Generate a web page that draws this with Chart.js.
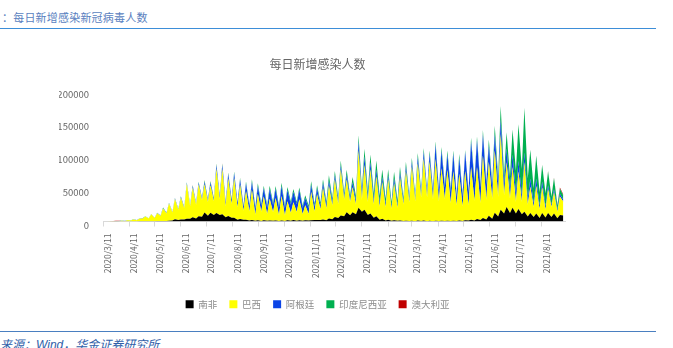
<!DOCTYPE html>
<html>
<head>
<meta charset="utf-8">
<script src="https://cdn.jsdelivr.net/npm/chart.js@4/dist/chart.umd.min.js"></script>
<style>
  html, body { margin: 0; padding: 0; background: #fff; width: 673px; height: 348px; overflow: hidden; position: relative; font-family: "Noto Sans CJK SC", sans-serif; }
  #head { position: absolute; left: 2px; top: 11px; font-size: 11px; line-height: 12px; letter-spacing: 0.2px; color: #5a7fc0; white-space: nowrap; }
  #headLine { position: absolute; left: 0; top: 28px; width: 656px; height: 1px; background: #3d8ed8; }
  #footLine { position: absolute; left: 0; top: 331px; width: 656px; height: 1px; background: #4a7fc0; }
  #foot { position: absolute; left: 0; top: 338px; font-size: 12px; line-height: 12px; font-style: italic; color: #2f5ea8; white-space: nowrap; }
  #foot .lat { font-family: "Liberation Sans", sans-serif; }
  #wrap { position: absolute; left: 0; top: 40px; width: 635px; height: 285px; }
</style>
</head>
<body>
<div id="head">：每日新增感染新冠病毒人数</div>
<div id="headLine"></div>
<div id="wrap"><canvas id="c"></canvas></div>
<div id="footLine"></div>
<div id="foot">来源：<span class="lat">Wind</span>，华金证券研究所</div>
<script>
// Day 0 of the horizontal axis
const startDate = '2020/3/11';
// Axis labels, one per month
const tickLabels = ['2020/3/11','2020/4/11','2020/5/11','2020/6/11','2020/7/11','2020/8/11','2020/9/11',
  '2020/10/11','2020/11/11','2020/12/11','2021/1/11','2021/2/11','2021/3/11','2021/4/11','2021/5/11',
  '2021/6/11','2021/7/11','2021/8/11'];

const seriesNames = ['南非', '巴西', '阿根廷', '印度尼西亚', '澳大利亚'];

// Weekly readings: mid-week high (Thursday) and start-of-week low (Monday), persons per day
const saPeak = [0,50,200,50,100,100,300,350,400,600,
  800,1200,3300,3000,4000,6500,8100,13700,13200,13100,
  11000,8300,5700,3800,2500,2400,1800,1900,1600,1700,
  1600,1900,2100,1800,1800,1900,2400,3100,4400,6700,
  9000,14000,14000,21000,18000,12300,8000,4200,2700,1900,
  1700,1200,1300,1400,1400,1200,1100,1100,1300,1300,
  1500,1900,2800,3900,5200,8900,13200,18000,22000,21000,
  19000,15000,13000,12000,13000,13000,12000,10000];
const saLow = [0,100,100,50,100,150,200,300,450,600,
  600,1700,2400,3200,4300,4600,7200,8700,10000,9700,
  6500,5800,2500,2500,1600,1200,800,1000,1200,900,
  800,1000,1300,1000,1400,2100,2100,1800,3300,5200,
  7900,9500,11000,15000,10000,5700,2500,1700,1000,1000,
  900,800,500,600,500,400,700,800,900,800,
  900,1600,1600,2100,3000,4300,7700,12000,13000,12000,
  11000,7500,7000,5500,6000,7000,5000,9000];

const brPeak = [30,200,500,1100,1800,3000,3700,7200,10500,12000,
  19000,26000,31000,33000,53000,45000,48000,43000,42000,67000,
  69000,57000,60000,52000,44000,46000,40000,36000,33000,34000,
  37000,29000,27000,32000,23000,43000,39000,48000,50000,57000,
  70000,50000,38000,87000,68000,67000,61000,56000,61000,56000,
  65000,75000,82000,87000,94000,90000,94000,80000,77000,75000,
  71000,75000,80000,79000,95000,82000,95000,115000,68000,62000,
  57000,75000,40000,42000,39000,36000,32000,28000];
const brLow = [50,300,400,900,1300,1900,4500,4100,5000,7900,
  11700,12000,15600,17000,19000,21000,25000,21000,20800,24000,
  16600,21000,19000,14000,13500,9100,14000,10000,13000,8500,
  8400,12000,13000,10000,10000,13000,16000,18000,21000,21000,
  25000,20000,15000,18000,20000,20000,20000,20000,18000,20000,
  25000,28000,30000,36000,36000,33000,30000,33000,27000,24000,
  22000,23000,30000,26000,30000,30000,30000,28000,22000,18000,
  19000,18000,15000,13000,12000,15000,10000,21000];

const arPeak = [10,30,100,100,100,100,100,150,200,300,
  500,700,900,1200,1400,2600,2700,3600,4300,5800,
  5900,7100,7700,8200,11700,12200,12300,13000,15000,14000,
  15500,17000,16000,14000,11000,11000,9000,8000,7500,7200,
  7100,7500,7700,14000,13000,11000,10000,7500,6800,7900,
  8200,8000,8100,9600,11000,11900,22000,27000,24000,27000,
  24000,29000,39000,41000,33000,25000,25000,22000,21000,19000,
  16000,15000,12000,11000,9000,6000,5000,4000];
const arLow = [20,50,100,80,100,100,100,100,150,200,
  500,600,800,1000,1200,1600,2300,2600,2700,4200,
  4800,4800,6100,6100,8000,8600,9100,10000,11000,11000,
  11000,13000,12000,10000,9000,8000,6500,6000,5200,5000,
  5000,4600,5600,8000,7000,6700,6100,4600,3500,4000,
  4200,4500,4200,5300,6800,10000,13000,18000,17000,13000,
  15000,20000,27000,24000,23000,17000,20000,16000,12000,13000,
  10000,9000,6000,6000,5000,3500,3200,3500];

const idPeak = [10,80,100,150,300,300,350,350,350,550,
  900,700,600,1200,1300,1200,1600,2600,1600,1900,
  2000,1800,2100,2300,2500,3600,3900,3600,4600,4200,
  4900,4400,4400,4000,4100,5400,4800,5000,8400,6000,
  6700,7200,8000,9300,11500,11700,13700,11400,8800,9800,
  8200,6800,5400,6100,5300,4800,4800,5300,5700,4600,
  6300,2700,5400,5200,6000,8900,12600,20600,24800,38000,
  56000,68000,44000,35000,25000,21000,17000,8000];
const idLow = [20,100,100,200,300,200,350,400,250,500,
  500,450,600,900,950,1000,1200,1300,1700,1500,
  1500,1700,1700,1900,2200,3100,3100,3900,3500,3600,
  3700,3900,3200,2900,3900,3800,4300,4600,5700,5300,
  5500,5600,6900,8100,9000,9800,10000,8200,6700,7500,
  5500,5000,5000,5100,4500,4900,4700,4600,4800,3400,
  3800,2600,4400,4600,5000,7000,9900,14500,20700,34000,
  40000,31000,22600,20000,20000,12000,6000,6000];

const auPeak = [30,150,400,300,100,30,20,20,20,20,
  20,20,10,10,30,30,80,190,320,500,
  700,500,400,200,150,100,50,30,20,20,
  20,20,20,10,10,10,10,10,10,20,
  20,20,20,20,10,10,10,10,10,10,
  10,10,10,10,10,10,10,10,10,10,
  10,10,10,10,10,10,20,20,30,20,
  100,150,200,300,400,700,1100,1700];
const auLow = [50,300,300,100,50,20,20,20,20,10,
  10,10,10,20,20,20,70,180,380,500,
  400,400,300,200,100,50,30,20,10,10,
  10,10,10,10,10,10,10,10,10,10,
  20,30,10,10,10,10,10,10,10,10,
  10,10,10,10,10,10,10,10,10,10,
  10,10,10,10,10,10,20,30,20,40,
  100,150,200,300,400,600,1200,1500];

const colors = ['#000000', '#ffff00', '#0b44e6', '#00b050', '#c00000'];

function dayOf(label) {
  const [y, m, d] = label.split('/').map(Number);
  const [y0, m0, d0] = startDate.split('/').map(Number);
  return Math.round((Date.UTC(y, m - 1, d) - Date.UTC(y0, m0 - 1, d0)) / 864e5);
}
const tickDays = tickLabels.map(dayOf);

// Thursday of week w is day 1 + 7w, the following Monday is day 5 + 7w
function weekly(peak, low) {
  const pts = [];
  for (let w = 0; w < peak.length; w++) {
    pts.push({ x: 1 + 7 * w, y: peak[w] });
    pts.push({ x: 5 + 7 * w, y: low[w] });
  }
  return pts;
}

const seriesData = [
  weekly(saPeak, saLow),
  weekly(brPeak, brLow),
  weekly(arPeak, arLow),
  weekly(idPeak, idLow),
  weekly(auPeak, auLow)
];

Chart.defaults.font.family = '"Noto Sans CJK SC", "Liberation Sans", sans-serif';

new Chart(document.getElementById('c'), {
  type: 'line',
  data: {
    datasets: seriesNames.map((name, i) => ({
      label: name,
      data: seriesData[i],
      backgroundColor: colors[i],
      borderColor: colors[i],
      borderWidth: 0,
      pointRadius: 0,
      tension: 0,
      fill: i === 0 ? 'origin' : '-1'
    }))
  },
  options: {
    responsive: true,
    maintainAspectRatio: false,
    animation: false,
    layout: { padding: { left: 59, right: 59, top: 0, bottom: 6 } },
    plugins: {
      title: {
        display: true,
        text: '每日新增感染人数',
        color: '#666666',
        font: { size: 12, weight: 'normal' },
        padding: { top: 17, bottom: 18.6 }
      },
      legend: {
        position: 'bottom',
        labels: {
          boxWidth: 8, boxHeight: 8, padding: 12,
          color: '#8c8c8c',
          font: { size: 9.5 }
        }
      },
      tooltip: { enabled: false }
    },
    scales: {
      x: {
        type: 'linear',
        min: 0,
        max: 546,
        afterBuildTicks: axis => { axis.ticks = tickDays.map(v => ({ value: v })); },
        afterFit: axis => { axis.height = 66; },
        ticks: {
          callback: v => tickLabels[tickDays.indexOf(v)],
          minRotation: 90, maxRotation: 90,
          autoSkip: false,
          color: '#666666',
          font: { size: 8.5 },
          padding: 7,
          labelOffset: 5
        },
        grid: { display: true, drawOnChartArea: false, drawTicks: true, tickLength: 5, color: '#d9d9d9' },
        border: { display: true, color: '#d9d9d9' }
      },
      y: {
        stacked: true,
        min: 0,
        max: 200000,
        afterFit: axis => { axis.width = 44; },
        ticks: {
          stepSize: 50000,
          callback: v => String(v),
          color: '#666666',
          font: { size: 9.5 },
          padding: 14,
          labelOffset: 4
        },
        grid: { display: false, drawTicks: false },
        border: { display: false }
      },
      // empty margin on the right of the plot, keeps title and legend centred on the whole chart
      yMargin: {
        position: 'right',
        display: true,
        afterFit: axis => { axis.width = 11; },
        ticks: { display: false },
        grid: { display: false, drawTicks: false },
        border: { display: false }
      }
    }
  }
});
</script>
</body>
</html>
